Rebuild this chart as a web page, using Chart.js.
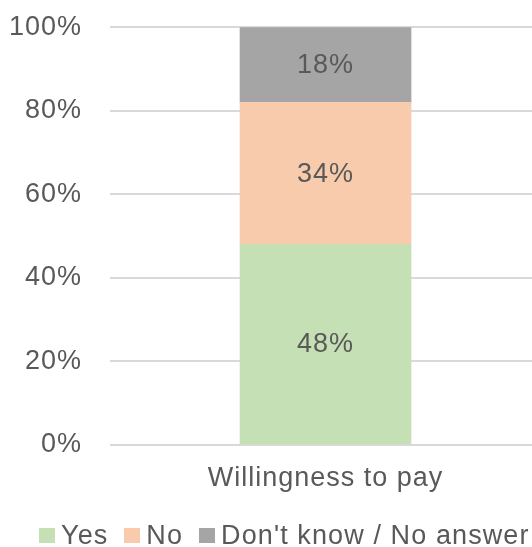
<!DOCTYPE html>
<html>
<head>
<meta charset="utf-8">
<script src="https://cdn.jsdelivr.net/npm/chart.js@4/dist/chart.umd.min.js"></script>
<style>
  body { margin: 0; overflow: hidden; background: #fff; font-family: "Liberation Sans", Arial, sans-serif; }
  #wrap { position: relative; width: 588px; height: 564px; margin-left: -28px; margin-top: -17px; }
  #legend { position: absolute; left: 67px; top: 539px; display: flex; align-items: center; white-space: nowrap;
            font-size: 27px; line-height: 27px; color: #595959; letter-spacing: 1.1px; }
  #legend .item { display: flex; align-items: center; margin-right: 16px; }
  #legend .box { width: 16px; height: 15px; margin-right: 6px; }
</style>
</head>
<body>
<div id="wrap">
  <canvas id="chart"></canvas>
  <div id="legend"></div>
</div>
<script>
const categories = ['Willingness to pay'];
const seriesNames = ['Yes', 'No', "Don't know / No answer"];
const yesValues = [48];
const noValues = [34];
const dontKnowValues = [18];
const yTicks = [0, 20, 40, 60, 80, 100];

const colors = ['#C5E0B4', '#F8CBAD', '#A5A5A5'];
const textColor = '#595959';
const font = { family: '"Liberation Sans", Arial, sans-serif', size: 27 };

// Excel-like wider text spacing for everything drawn on the canvas
const spacing = {
    id: 'spacing',
    beforeDraw(chart) { chart.ctx.letterSpacing = '1px'; }
};

// value labels in the middle of each segment
const segmentLabels = {
    id: 'segmentLabels',
    afterDatasetsDraw(chart) {
        const ctx = chart.ctx;
        ctx.save();
        ctx.font = font.size + 'px ' + font.family;
        ctx.fillStyle = textColor;
        ctx.textAlign = 'center';
        ctx.textBaseline = 'middle';
        chart.data.datasets.forEach((ds, i) => {
            chart.getDatasetMeta(i).data.forEach((bar, j) => {
                const p = bar.getCenterPoint();
                ctx.fillText(ds.data[j] + '%', p.x, p.y + 1);
            });
        });
        ctx.restore();
    }
};

const values = [yesValues, noValues, dontKnowValues];

new Chart(document.getElementById('chart'), {
    type: 'bar',
    data: {
        labels: categories,
        datasets: seriesNames.map((name, i) => ({
            label: name,
            data: values[i],
            backgroundColor: colors[i],
            barThickness: 171
        }))
    },
    options: {
        responsive: true,
        maintainAspectRatio: false,
        animation: false,
        layout: { padding: { left: 13, right: 19, top: 10, bottom: 42 } },
        plugins: {
            legend: { display: false },
            tooltip: { enabled: false }
        },
        scales: {
            x: {
                stacked: true,
                grid: { display: false },
                border: { display: false },
                ticks: { color: textColor, font: font, padding: 10 }
            },
            y: {
                stacked: true,
                min: yTicks[0],
                max: yTicks[yTicks.length - 1],
                grid: { color: '#D9D9D9', lineWidth: 2, drawTicks: false },
                border: { display: false },
                ticks: { stepSize: 20, color: textColor, font: font, padding: 28,
                         callback: v => v + '%' }
            }
        }
    },
    plugins: [spacing, segmentLabels]
});

const legend = document.getElementById('legend');
seriesNames.forEach((name, i) => {
    const item = document.createElement('div');
    item.className = 'item';
    const box = document.createElement('span');
    box.className = 'box';
    box.style.background = colors[i];
    const txt = document.createElement('span');
    txt.textContent = name;
    item.appendChild(box);
    item.appendChild(txt);
    legend.appendChild(item);
});
</script>
</body>
</html>
